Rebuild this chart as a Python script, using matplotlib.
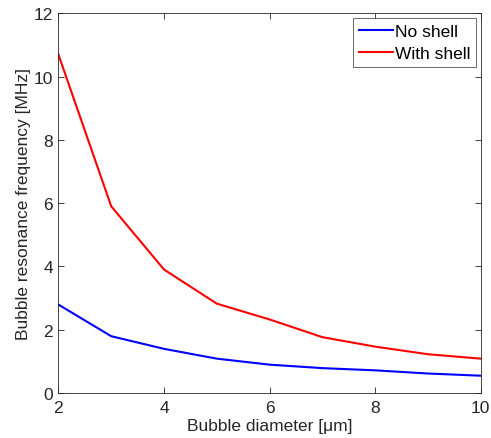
import matplotlib
matplotlib.use("Agg")
import matplotlib.pyplot as plt

diameter = [2, 3, 4, 5, 6, 7, 8, 9, 10]
no_shell = [2.79, 1.79, 1.39, 1.08, 0.89, 0.78, 0.71, 0.61, 0.54]
with_shell = [10.70, 5.90, 3.90, 2.82, 2.32, 1.76, 1.46, 1.22, 1.08]
xticks = [2, 4, 6, 8, 10]
yticks = [0, 2, 4, 6, 8, 10, 12]

plt.rcParams['font.family'] = ['Liberation Sans', 'DejaVu Sans']
plt.rcParams['font.size'] = 12.5

fig = plt.figure(figsize=(4.91, 4.39), dpi=100)
ax = fig.add_axes([0.119, 0.103, 0.860, 0.864])
ax.plot(diameter, no_shell, color='#0000ff', lw=1.5, label='No shell')
ax.plot(diameter, with_shell, color='#ff0000', lw=1.5, label='With shell')
ax.set_xlim(2, 10)
ax.set_ylim(0, 12)
ax.set_xticks(xticks)
ax.set_yticks(yticks)
ax.tick_params(direction='in', top=True, right=True, length=4, width=0.6,
               colors='#262626', labelcolor='#262626')
ax.tick_params(axis='x', pad=5)
ax.tick_params(axis='y', pad=4)
for s in ax.spines.values():
    s.set_linewidth(0.6)
    s.set_color('#262626')
ax.set_xlabel('Bubble diameter [μm]', labelpad=2.5, color='#262626')
ax.set_ylabel('Bubble resonance frequency [MHz]', labelpad=2, color='#262626')
leg = ax.legend(loc='upper right', fancybox=False, edgecolor='#262626',
                borderaxespad=0.25, handlelength=1.95, handletextpad=0.1,
                borderpad=0.35, labelspacing=0.4)
leg.get_frame().set_linewidth(0.6)
fig.savefig('out.png', dpi=100)
